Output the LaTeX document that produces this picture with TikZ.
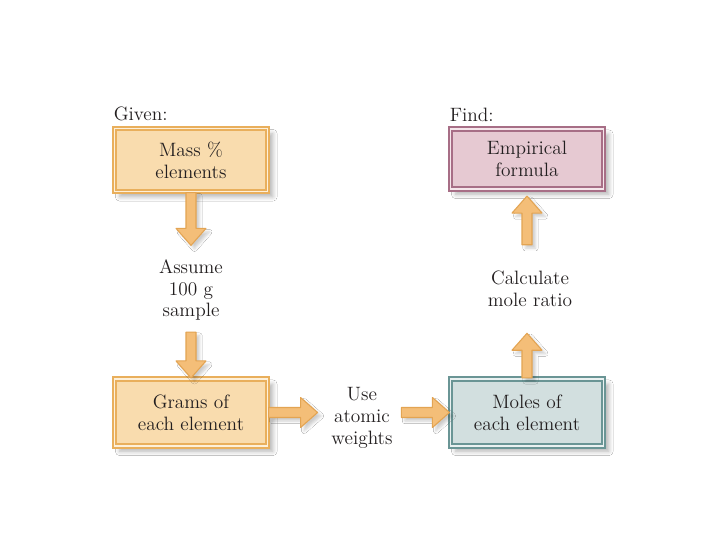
\documentclass[tikz,border=0pt]{standalone}
\usepackage{tikz}
\usetikzlibrary{positioning,calc,shadows.blur}
\definecolor{ink}{HTML}{231F20}
\definecolor{tan}{HTML}{F9DCAE}
\definecolor{tandk}{HTML}{E9AF5C}
\definecolor{tanlt}{HTML}{FDF0DA}
\definecolor{mauve}{HTML}{E6C9D2}
\definecolor{mauvedk}{HTML}{A76E86}
\definecolor{mauvelt}{HTML}{F5E6EB}
\definecolor{teal}{HTML}{D2DFDF}
\definecolor{tealdk}{HTML}{6A9595}
\definecolor{teallt}{HTML}{EAF1F1}
\definecolor{arrowfill}{HTML}{F4BE78}
\definecolor{arrowdk}{HTML}{E3A452}
\tikzset{
  soft shadow/.style={blur shadow={shadow blur steps=6, shadow xshift=3pt,
    shadow yshift=-3pt, shadow blur radius=2.5pt, shadow opacity=30}},
  blk/.style={rectangle, draw=#1dk, fill=#1, double=#1lt, double distance=0.7pt,
    line width=1.2pt, minimum width=3.06cm, minimum height=1.28cm, align=center,
    font=\fontsize{11}{12.5}\selectfont, text=ink, inner sep=3pt, soft shadow},
  blk/.default=tan,
  step text/.style={align=center, font=\fontsize{11}{12.5}\selectfont, text=ink, inner sep=2pt},
  lbl/.style={font=\fontsize{11}{12.5}\selectfont, text=ink, inner sep=0pt, anchor=south west},
  barrow/.style={draw=arrowdk, fill=arrowfill, line width=0.6pt, line join=round,
    blur shadow={shadow blur steps=5, shadow xshift=2pt, shadow yshift=-2pt,
    shadow blur radius=1.5pt, shadow opacity=20}},
}
% block arrow from #1 to #2 (tip at #2)
\newcommand{\blockarrow}[2]{%
  \coordinate (ba) at #1;
  \coordinate (bb) at #2;
  \draw[barrow] ($(ba)!0.1cm!90:(bb)$)
    -- ($(bb)!0.34cm!(ba)!0.1cm!90:(bb)$)
    -- ($(bb)!0.34cm!(ba)!0.3cm!90:(bb)$)
    -- (bb)
    -- ($(bb)!0.34cm!(ba)!0.3cm!-90:(bb)$)
    -- ($(bb)!0.34cm!(ba)!0.1cm!-90:(bb)$)
    -- ($(ba)!0.1cm!-90:(bb)$) -- cycle;}

\begin{document}
\begin{tikzpicture}[x=1cm,y=1cm]
  \useasboundingbox[fill=white] (0,0) rectangle (14.4,10.8);

  \node[blk=tan, minimum height=1.26cm] (mass) at (3.82,7.6) {Mass \%\\elements};
  \node[blk=mauve, minimum height=1.2cm] (formula) at (10.54,7.62) {Empirical\\formula};
  \node[blk=tan, minimum height=1.34cm] (grams) at (3.82,2.55) {Grams of\\each element};
  \node[blk=teal, minimum height=1.34cm] (moles) at (10.54,2.55) {Moles of\\each element};

  \node[lbl] (given) at ([yshift=0.12cm]mass.north west) {Given:};
  \node[lbl] (find) at ([yshift=0.12cm]formula.north west) {Find:};

  \node[step text] (assume) at (3.82,5.0) {Assume\\100 g\\sample};
  \node[step text] (ratio) at (10.6,5.02) {Calculate\\mole ratio};
  \node[step text] (atomic) at (7.24,2.44) {Use\\atomic\\weights};

  \blockarrow{(mass.south)}{([yshift=0.2cm]assume.north)}
  \blockarrow{([yshift=-0.15cm]assume.south)}{(grams.north)}
  \blockarrow{(moles.north)}{([xshift=-0.06cm,yshift=-0.45cm]ratio.south)}
  \blockarrow{([xshift=-0.06cm,yshift=0.45cm]ratio.north)}{([yshift=-0.12cm]formula.south)}
  \blockarrow{(grams.east)}{([xshift=-0.2cm]atomic.west |- grams.east)}
  \blockarrow{([xshift=0.1cm]atomic.east |- moles.west)}{(moles.west)}
\end{tikzpicture}
\end{document}
